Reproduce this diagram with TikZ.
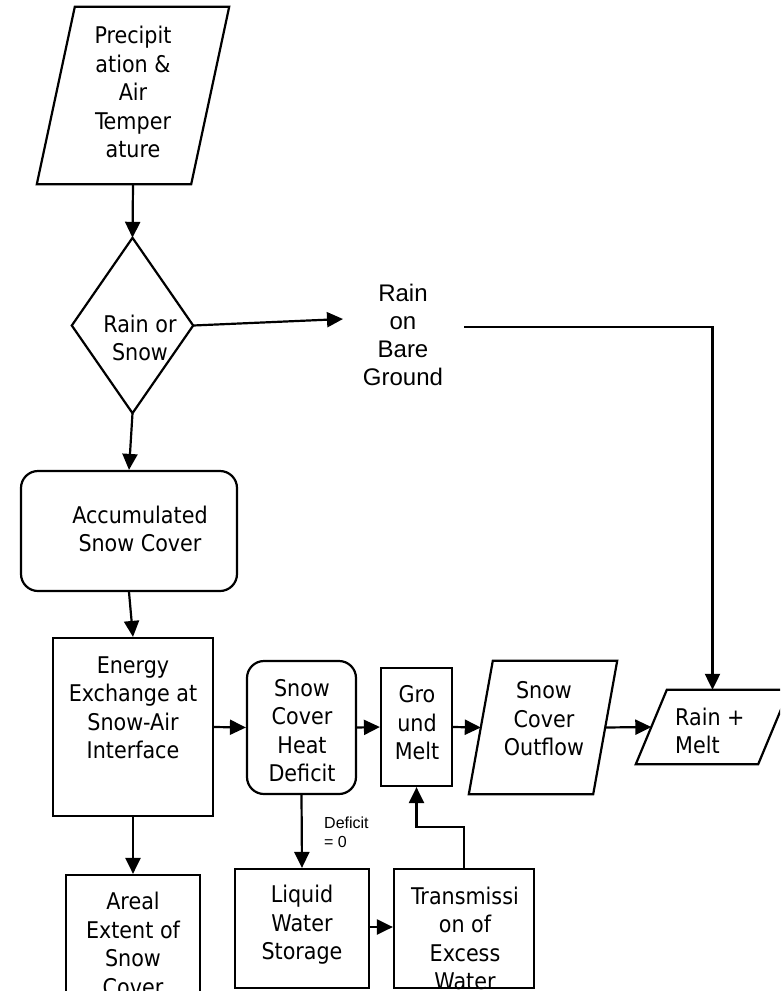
\documentclass[tikz,border=0pt]{standalone}
\usepackage{fontspec}
\setmainfont{DejaVu Sans Condensed}
\newfontfamily\arialf{Liberation Sans}
\usetikzlibrary{arrows.meta,calc}
\begin{document}
\begin{tikzpicture}[x=1pt,y=-1pt,
  ln/.style={line width=2.2pt},
  arr/.style={ln,-{Triangle[length=16pt,width=15pt]}},
  frame/.style={ln,draw,rectangle,inner sep=0pt},
  ghost/.style={rectangle,inner sep=0pt},
  rbox/.style={frame,rounded corners=17pt},
  txt/.style={align=center,inner sep=0pt,font=\fontsize{23}{28.5}\selectfont},
  atxt/.style={align=center,inner sep=0pt,font=\arialf\fontsize{24}{28}\selectfont},
  small/.style={align=left,inner sep=0pt,font=\arialf\fontsize{16}{19}\selectfont}
]
\useasboundingbox (0,0) rectangle (780,991);
\clip (0,0) rectangle (780,991);

% ---- shapes ----
\node[ghost,minimum width=192pt,minimum height=177pt] (precip) at (133,95.5) {};
\draw[ln] ($(precip.north west)+(38,0)$) -- (precip.north east) -- ($(precip.south east)+(-38,0)$) -- (precip.south west) -- cycle;
\node[txt] (precipT) at (133,92) {Precipit\\ation \&\\Air\\Temper\\ature};

\node[ghost,minimum width=121pt,minimum height=175pt] (dia) at (132.5,325.5) {};
\draw[ln] (dia.north) -- (dia.east) -- (dia.south) -- (dia.west) -- cycle;
\node[txt] (diaT) at (140,338) {Rain or\\Snow};

\node[atxt] (rob) at (403,335) {Rain\\on\\Bare\\Ground};
\coordinate (robIn) at (343,319);
\coordinate (robOut) at (464,327);

\node[rbox,minimum width=216pt,minimum height=120pt] (acc) at (129,531) {};
\node[txt] (accT) at (140,529) {Accumulated\\Snow Cover};

\node[frame,minimum width=160pt,minimum height=178pt] (energy) at (133,727) {};
\node[txt] (energyT) at (133,708) {Energy\\Exchange at\\Snow-Air\\Interface};

\node[rbox,minimum width=109pt,minimum height=133pt] (heat) at (301.5,727.5) {};
\node[txt] (heatT) at (302,730.5) {Snow\\Cover\\Heat\\Deficit};

\node[frame,minimum width=71pt,minimum height=118pt] (gm) at (416.5,727) {};
\node[txt] (gmT) at (417,723) {Gro\\und\\Melt};

\node[ghost,minimum width=148pt,minimum height=133pt] (sco) at (543,727.5) {};
\draw[ln] ($(sco.north west)+(24,0)$) -- (sco.north east) -- ($(sco.south east)+(-24,0)$) -- (sco.south west) -- cycle;
\node[txt] (scoT) at (544,719) {Snow\\Cover\\Outflow};
\coordinate (scoW) at ($(sco.west)+(12,0)$);
\coordinate (scoE) at ($(sco.east)+(-12,0)$);

\node[ghost,minimum width=153pt,minimum height=74pt] (rm) at (712.5,727) {};
\draw[ln] ($(rm.north west)+(31,0)$) -- (rm.north east) -- ($(rm.south east)+(-31,0)$) -- (rm.south west) -- cycle;
\node[txt,align=left,anchor=west] (rmT) at (675,731) {Rain +\\Melt};
\coordinate (rmW) at ($(rm.west)+(15.5,0)$);

\node[frame,minimum width=134pt,minimum height=130pt] (areal) at (133,940) {};
\node[txt] (arealT) at (133,944) {Areal\\Extent of\\Snow\\Cover};

\node[frame,minimum width=134pt,minimum height=119pt] (liquid) at (302,928.5) {};
\node[txt] (liquidT) at (302,925) {Liquid\\Water\\Storage};

\node[frame,minimum width=140pt,minimum height=119pt] (trans) at (464,928.5) {};
\node[txt] (transT) at (465,938.5) {Transmissi\\on of\\Excess\\Water};

\node[small,anchor=west] (defT) at (324,832) {Deficit\\= 0};

% ---- connectors ----
\draw[arr] (precip.south) -- (dia.north);
\draw[arr] (dia.east) -- (robIn);
\draw[arr] (robOut) -| (rm.north);
\draw[arr] (dia.south) -- (acc.north);
\draw[arr] (acc.south) -- (energy.north);
\draw[arr] (energy.east) -- (heat.west);
\draw[arr] (heat.east) -- (gm.west);
\draw[arr] (gm.east) -- (scoW);
\draw[arr] (scoE) -- (rmW);
\draw[arr] (energy.south) -- (areal.north);
\draw[arr] (heat.south) -- (liquid.north);
\draw[arr] (liquid.east |- 0,927) -- (trans.west |- 0,927);
\draw[arr] (trans.north) -- ++(0,-41) -| (gm.south);
\end{tikzpicture}
\end{document}
